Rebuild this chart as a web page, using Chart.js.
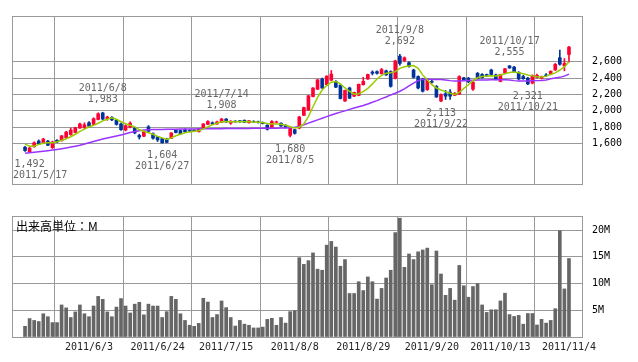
<!DOCTYPE html>
<html>
<head>
<meta charset="utf-8">
<script src="https://cdn.jsdelivr.net/npm/chart.js@4.4.0/dist/chart.umd.min.js"></script>
<style>
  body { margin: 0; background: #fff; }
  #wrap { position: relative; width: 638px; height: 362px; }
  canvas { position: absolute; left: 0; }
  #priceChart { top: 0; }
  #volumeChart { top: 200px; }
</style>
</head>
<body>
<div id="wrap">
  <canvas id="priceChart" width="638" height="200"></canvas>
  <canvas id="volumeChart" width="638" height="162"></canvas>
</div>
<script>
// 1. Datos
const dates = [
  '2011/5/16','2011/5/17','2011/5/18','2011/5/19','2011/5/20','2011/5/23','2011/5/24','2011/5/25','2011/5/26','2011/5/27',
  '2011/5/30','2011/5/31','2011/6/1','2011/6/2','2011/6/3','2011/6/6','2011/6/7','2011/6/8','2011/6/9','2011/6/10',
  '2011/6/13','2011/6/14','2011/6/15','2011/6/16','2011/6/17','2011/6/20','2011/6/21','2011/6/22','2011/6/23','2011/6/24',
  '2011/6/27','2011/6/28','2011/6/29','2011/6/30','2011/7/1','2011/7/4','2011/7/5','2011/7/6','2011/7/7','2011/7/8',
  '2011/7/11','2011/7/12','2011/7/13','2011/7/14','2011/7/15','2011/7/19','2011/7/20','2011/7/21','2011/7/22','2011/7/25',
  '2011/7/26','2011/7/27','2011/7/28','2011/7/29','2011/8/1','2011/8/2','2011/8/3','2011/8/4','2011/8/5','2011/8/8',
  '2011/8/9','2011/8/10','2011/8/11','2011/8/12','2011/8/15','2011/8/16','2011/8/17','2011/8/18','2011/8/19','2011/8/22',
  '2011/8/23','2011/8/24','2011/8/25','2011/8/26','2011/8/29','2011/8/30','2011/8/31','2011/9/1','2011/9/2','2011/9/5',
  '2011/9/6','2011/9/7','2011/9/8','2011/9/9','2011/9/12','2011/9/13','2011/9/14','2011/9/15','2011/9/16','2011/9/20',
  '2011/9/21','2011/9/22','2011/9/26','2011/9/27','2011/9/28','2011/9/29','2011/9/30','2011/10/3','2011/10/4','2011/10/5',
  '2011/10/6','2011/10/7','2011/10/11','2011/10/12','2011/10/13','2011/10/14','2011/10/17','2011/10/18','2011/10/19','2011/10/20',
  '2011/10/21','2011/10/24','2011/10/25','2011/10/26','2011/10/27','2011/10/28','2011/10/31','2011/11/1','2011/11/2','2011/11/4'
];

const opens = [
  1555,1500,1560,1630,1605,1630,1550,1640,1635,1670, 1710,1735,1790,1795,1855,1835,1895,1975,1905,1920,
  1885,1840,1765,1800,1790,1700,1690,1805,1720,1685, 1660,1655,1665,1765,1760,1770,1760,1765,1745,1790,
  1835,1855,1840,1860,1900,1850,1875,1880,1885,1855, 1870,1866,1860,1825,1800,1860,1850,1825,1700,1770,
  1790,1945,2010,2175,2265,2390,2320,2375,2360,2315, 2120,2280,2180,2190,2320,2390,2475,2480,2455,2490,
  2480,2395,2670,2615,2590,2500,2420,2390,2260,2360, 2300,2120,2210,2230,2190,2205,2405,2400,2265,2460,
  2445,2445,2500,2440,2360,2460,2550,2535,2470,2420, 2400,2340,2410,2400,2440,2450,2500,2650,2550,2690
];
const highs = [
  1565,1555,1620,1645,1665,1640,1630,1650,1700,1750, 1790,1800,1850,1855,1870,1915,1975,1983,1935,1930,
  1895,1850,1830,1865,1800,1715,1755,1820,1730,1690, 1665,1665,1735,1775,1770,1780,1770,1770,1780,1845,
  1880,1865,1875,1908,1905,1880,1880,1885,1890,1885, 1880,1875,1865,1830,1880,1875,1855,1830,1800,1775,
  1935,2045,2190,2285,2385,2400,2430,2494,2370,2320, 2255,2290,2230,2330,2410,2450,2490,2490,2520,2500,
  2490,2620,2692,2660,2600,2510,2430,2400,2395,2375, 2310,2210,2250,2260,2225,2430,2410,2410,2360,2470,
  2455,2450,2510,2450,2450,2520,2555,2545,2480,2435, 2410,2440,2450,2425,2455,2490,2580,2745,2640,2790
];
const lows = [
  1505,1492,1555,1590,1600,1575,1540,1610,1630,1665, 1700,1730,1785,1780,1800,1830,1890,1890,1885,1880,
  1825,1760,1755,1790,1720,1655,1685,1745,1655,1625, 1604,1610,1660,1730,1710,1735,1745,1750,1740,1785,
  1830,1830,1835,1855,1860,1835,1860,1860,1855,1850, 1860,1850,1840,1765,1790,1850,1810,1790,1680,1715,
  1780,1940,2005,2170,2260,2275,2315,2370,2285,2145, 2115,2150,2175,2185,2315,2385,2440,2450,2450,2435,
  2290,2390,2560,2600,2535,2400,2270,2230,2250,2340, 2165,2113,2140,2140,2185,2200,2370,2345,2250,2390,
  2400,2420,2440,2380,2355,2455,2520,2470,2380,2385, 2321,2330,2400,2390,2420,2445,2495,2560,2490,2595
];
const closes = [
  1515,1545,1610,1595,1655,1580,1620,1620,1695,1740, 1765,1795,1840,1830,1810,1905,1965,1900,1925,1890,
  1835,1770,1820,1850,1730,1680,1745,1750,1665,1645, 1610,1615,1730,1735,1720,1745,1752,1757,1775,1840,
  1870,1840,1865,1900,1865,1875,1865,1870,1860,1880, 1864,1860,1845,1775,1870,1866,1815,1800,1790,1725,
  1925,2040,2185,2280,2380,2280,2425,2450,2290,2150, 2250,2155,2225,2325,2360,2445,2460,2460,2505,2440,
  2300,2610,2580,2650,2540,2410,2280,2240,2385,2350, 2170,2200,2180,2180,2215,2420,2375,2355,2350,2395,
  2405,2430,2445,2390,2445,2515,2525,2475,2390,2395, 2330,2430,2435,2420,2430,2485,2570,2570,2580,2780
];

// medias móviles (verde: corta, morada: larga)
const maShort = [
  1593,1567,1567,1590,1604,1611,1611,1622,1640,1659, 1684,1714,1750,1776,1805,1823,1849,1878,1897,1915,
  1897,1867,1842,1825,1805,1769,1750,1732,1714,1688, 1670,1651,1670,1695,1714,1732,1743,1750,1758,1780,
  1805,1831,1849,1867,1871,1867,1867,1871,1867,1871, 1865,1862,1858,1845,1840,1838,1835,1825,1805,1790,
  1800,1840,1930,2050,2165,2255,2310,2350,2360,2330, 2280,2240,2205,2210,2235,2275,2330,2390,2435,2460,
  2465,2480,2520,2540,2550,2555,2520,2440,2380,2320, 2280,2255,2235,2215,2200,2225,2275,2320,2370,2405,
  2420,2428,2430,2428,2440,2455,2470,2475,2465,2455, 2440,2428,2418,2415,2425,2445,2465,2500,2538,2600
];
const maLong = [
  1483,1488,1494,1500,1506,1513,1520,1528,1537,1547, 1557,1568,1580,1595,1610,1625,1640,1655,1668,1680,
  1693,1706,1720,1735,1748,1758,1765,1770,1772,1772, 1773,1774,1775,1776,1777,1778,1778,1779,1780,1780,
  1781,1781,1782,1782,1783,1783,1784,1784,1785,1785, 1786,1786,1787,1787,1788,1788,1790,1792,1795,1800,
  1810,1830,1850,1870,1890,1910,1930,1950,1968,1985, 2000,2018,2035,2050,2065,2085,2105,2125,2150,2170,
  2195,2215,2240,2270,2305,2340,2370,2385,2390,2385, 2385,2385,2378,2370,2365,2365,2368,2372,2375,2378,
  2378,2379,2380,2380,2380,2380,2378,2370,2365,2365, 2365,2367,2370,2372,2378,2392,2402,2410,2425,2450
];

// volumen en millones
const volumes = [
  2.0,3.45,3.1,2.9,4.35,3.8,2.7,2.7,6.0,5.45, 3.65,4.7,6.0,4.35,3.8,5.8,7.6,7.05,4.7,3.8,
  5.6,7.2,5.8,4.5,6.15,6.5,4.15,6.15,5.8,5.8, 3.65,4.75,7.6,7.05,4.35,3.1,2.2,2.0,2.55,7.25,
  6.55,3.65,4.2,6.75,5.5,3.65,2.05,3.1,2.4,2.2, 1.7,1.7,1.85,3.3,3.5,2.2,3.65,2.6,4.75,4.95,
  14.85,13.6,14.3,15.75,12.7,12.5,17.2,17.9,16.85,13.25, 14.5,8.15,8.15,10.35,8.7,11.25,10.35,7.1,9.1,11.05,
  12.5,19.55,22.25,13.05,15.55,14.5,15.95,16.3,16.65,9.8, 16.1,11.8,7.8,9.1,6.9,13.4,9.6,7.45,9.45,10.0,
  6.0,4.6,5.1,5.1,6.75,8.2,4.2,3.85,4.05,2.4, 4.4,4.4,2.25,3.3,2.6,3.1,5.3,19.9,9.0,14.7
];

const priceTicks = [1600, 1800, 2000, 2200, 2400, 2600];
const volumeTicks = [0, 5, 10, 15, 20];
const dateTicks = ['2011/6/3','2011/6/24','2011/7/15','2011/8/8','2011/8/29','2011/9/20','2011/10/13','2011/11/4'];
const highMarks = ['2011/6/8','2011/7/14','2011/9/8','2011/10/17'];
const lowMarks = ['2011/5/17','2011/6/27','2011/8/5','2011/9/22','2011/10/21'];

// 2. Estilos
const MONO = '"DejaVu Sans Mono", monospace';
const GRID = '#999';
const UP = '#ff0033';
const DOWN = '#003399';
Chart.defaults.font.family = MONO;
Chart.defaults.font.size = 10;
Chart.defaults.color = '#000';

const fmt = v => v.toLocaleString('en-US');
const tickIdx = dateTicks.map(d => dates.indexOf(d));
const candleColors = closes.map((c, i) => c >= opens[i] ? UP : DOWN);

// marco gris alrededor del área
const frame = {
  id: 'frame',
  beforeDatasetsDraw(chart) {
    const { ctx, chartArea: a } = chart;
    ctx.save();
    ctx.strokeStyle = GRID;
    ctx.lineWidth = 1;
    ctx.strokeRect(a.left + 0.5, a.top + 0.5, a.right - a.left, a.bottom - a.top);
    ctx.restore();
  }
};

// etiquetas de máximos y mínimos
const marks = {
  id: 'marks',
  afterDatasetsDraw(chart) {
    const { ctx, chartArea: a, scales: { x, y } } = chart;
    ctx.save();
    ctx.font = '10px ' + MONO;
    ctx.fillStyle = '#666';
    ctx.textBaseline = 'middle';
    ctx.textAlign = 'left';
    const put = (text, cx, cy) => {
      const w = ctx.measureText(text).width;
      const left = Math.max(a.left + 1, Math.min(a.right - w - 1, cx - w / 2));
      ctx.fillText(text, left, cy);
    };
    highMarks.forEach(d => {
      const i = dates.indexOf(d);
      const px = x.getPixelForValue(i), py = y.getPixelForValue(highs[i]);
      put(fmt(highs[i]), px, py - 13);
      put(d, px, py - 24);
    });
    lowMarks.forEach(d => {
      const i = dates.indexOf(d);
      const px = x.getPixelForValue(i), py = y.getPixelForValue(lows[i]);
      put(fmt(lows[i]), px, py + 12);
      put(d, px, py + 23);
    });
    ctx.restore();
  }
};

const volumeTitle = {
  id: 'volumeTitle',
  afterDraw(chart) {
    const { ctx, chartArea: a } = chart;
    ctx.save();
    ctx.font = '12px "Noto Sans CJK JP", sans-serif';
    ctx.fillStyle = '#000';
    ctx.textBaseline = 'middle';
    ctx.fillText('出来高単位：M', a.left + 4, a.top + 10);
    ctx.restore();
  }
};

const xAxis = (showLabels) => ({
  type: 'linear',
  offset: false,
  min: -2.85,
  max: 121.85,
  grid: { color: GRID, drawTicks: false },
  border: { display: false },
  afterBuildTicks: s => { s.ticks = tickIdx.map(v => ({ value: v })); },
  afterFit: s => { s.height = showLabels ? 25 : 0; },
  ticks: {
    display: showLabels,
    autoSkip: false,
    maxRotation: 0,
    padding: 4,
    color: '#222',
    callback: v => dates[v]
  }
});

// 3. Gráfica de precios (velas + medias)
new Chart(document.getElementById('priceChart'), {
  type: 'bar',
  data: {
    datasets: [
      {
        type: 'line', data: maShort.map((v, i) => ({ x: i, y: v })),
        borderColor: '#99cc00', borderWidth: 1.5, pointRadius: 0, order: 0
      },
      {
        type: 'line', data: maLong.map((v, i) => ({ x: i, y: v })),
        borderColor: '#9933ff', borderWidth: 1.5, pointRadius: 0, order: 1
      },
      {
        data: opens.map((o, i) => ({ x: i, y: [o, closes[i]] })),
        backgroundColor: candleColors, barThickness: 3, grouped: false, order: 2
      },
      {
        data: lows.map((l, i) => ({ x: i, y: [l, highs[i]] })),
        backgroundColor: candleColors, barThickness: 1, grouped: false, order: 3
      }
    ]
  },
  options: {
    responsive: false,
    animation: false,
    events: [],
    layout: { padding: { left: 12, top: 10, right: 0, bottom: 3 } },
    plugins: { legend: { display: false }, tooltip: { enabled: false } },
    scales: {
      x: xAxis(false),
      y: {
        position: 'right',
        min: 1105.5,
        max: 3160.5,
        grid: { color: GRID, drawTicks: false },
        border: { display: false },
        afterBuildTicks: s => { s.ticks = priceTicks.map(v => ({ value: v })); },
        afterFit: s => { s.width = 56; },
        ticks: { padding: 10, callback: v => fmt(v) }
      }
    }
  },
  plugins: [frame, marks]
});

// 4. Gráfica de volumen
new Chart(document.getElementById('volumeChart'), {
  type: 'bar',
  data: {
    datasets: [{
      data: volumes.map((v, i) => ({ x: i, y: v })),
      backgroundColor: '#666', barThickness: 3
    }]
  },
  options: {
    responsive: false,
    animation: false,
    events: [],
    layout: { padding: { left: 12, top: 12, right: 0, bottom: 0 } },
    plugins: { legend: { display: false }, tooltip: { enabled: false } },
    scales: {
      x: xAxis(true),
      y: {
        position: 'right',
        min: 0,
        max: 22.66,
        grid: { color: GRID, drawTicks: false },
        border: { display: false },
        afterBuildTicks: s => { s.ticks = volumeTicks.map(v => ({ value: v })); },
        afterFit: s => { s.width = 56; },
        ticks: { padding: 10, callback: v => v ? v + 'M' : '' }
      }
    }
  },
  plugins: [frame, volumeTitle]
});
</script>
</body>
</html>
